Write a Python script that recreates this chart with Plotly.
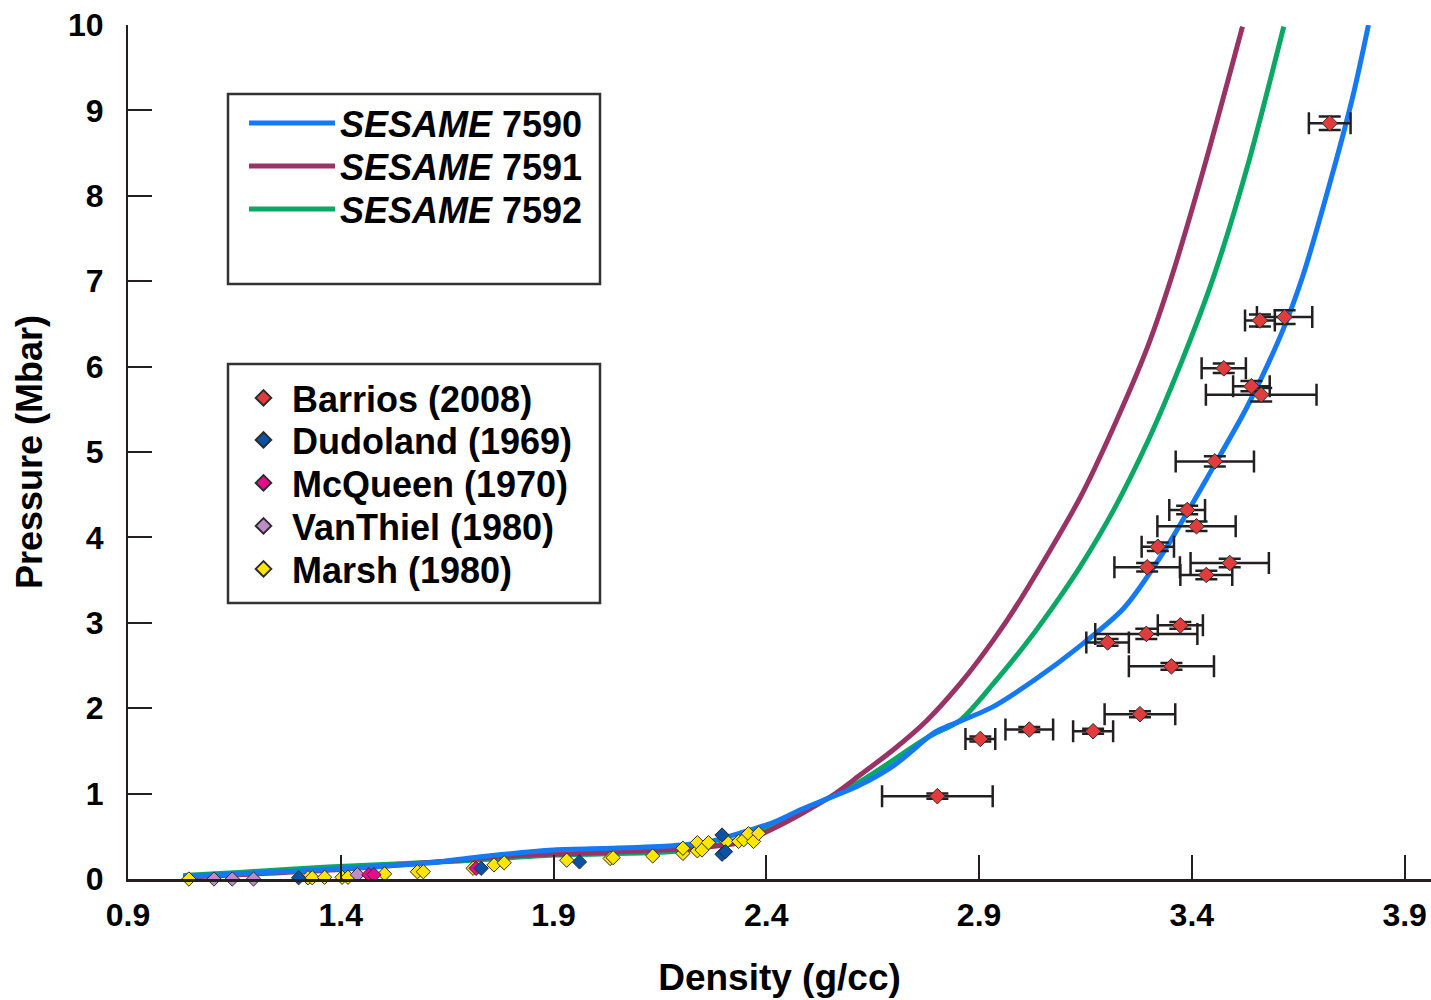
import plotly.graph_objects as go

# SESAME 7590 (blue)
rho_7590 = [1.03, 1.2, 1.4, 1.63, 1.71, 1.9, 2.04, 2.18, 2.26, 2.34, 2.42, 2.48, 2.62, 2.70,
            2.78, 2.80, 2.93, 3.03, 3.13, 3.24, 3.33, 3.45, 3.53, 3.61, 3.66, 3.73, 3.78, 3.815]
p_7590 = [0.03, 0.07, 0.12, 0.20, 0.25, 0.34, 0.36, 0.39, 0.43, 0.54, 0.67, 0.81, 1.10, 1.33,
          1.66, 1.73, 2.01, 2.33, 2.70, 3.17, 3.80, 4.82, 5.53, 6.38, 7.05, 8.25, 9.20, 10.0]

# SESAME 7591 (purple)
rho_7591 = [1.03, 1.2, 1.4, 1.6, 1.8, 1.95, 2.2, 2.34, 2.42, 2.55, 2.621, 2.7, 2.778, 2.856,
            2.934, 2.997, 3.138, 3.216, 3.296, 3.35, 3.427, 3.519]
p_7591 = [0.02, 0.06, 0.11, 0.19, 0.27, 0.30, 0.35, 0.43, 0.60, 0.96, 1.22, 1.52, 1.86, 2.29,
          2.80, 3.27, 4.47, 5.29, 6.23, 7.01, 8.30, 9.98]

# SESAME 7592 (green)
rho_7592 = [1.03, 1.17, 1.37, 1.68, 1.9, 2.2, 2.34, 2.48, 2.62, 2.78, 2.856, 2.934, 3.014,
            3.091, 3.138, 3.216, 3.296, 3.373, 3.451, 3.531, 3.616]
p_7592 = [0.04, 0.08, 0.14, 0.21, 0.28, 0.33, 0.47, 0.79, 1.14, 1.66, 1.86, 2.29, 2.78,
          3.31, 3.66, 4.32, 5.12, 6.02, 7.05, 8.35, 9.98]

# Barrios (2008)
barrios_rho = [2.802, 2.903, 3.018, 3.168, 3.278, 3.352, 3.202, 3.293, 3.373, 3.434, 3.489,
               3.295, 3.320, 3.411, 3.389, 3.454, 3.563, 3.540, 3.475, 3.560, 3.618, 3.724]
barrios_p = [0.97, 1.64, 1.75, 1.73, 1.93, 2.49, 2.77, 2.87, 2.97, 3.56, 3.70,
             3.65, 3.89, 4.13, 4.32, 4.89, 5.67, 5.77, 5.98, 6.54, 6.58, 8.85]
barrios_drho = [0.13, 0.035, 0.056, 0.047, 0.083, 0.10, 0.05, 0.12, 0.053, 0.061, 0.092,
                0.077, 0.038, 0.092, 0.042, 0.092, 0.13, 0.043, 0.052, 0.035, 0.065, 0.049]
barrios_dp = [0.03, 0.03, 0.03, 0.03, 0.035, 0.04, 0.04, 0.06, 0.04, 0.05, 0.05,
              0.05, 0.05, 0.055, 0.05, 0.06, 0.08, 0.06, 0.055, 0.07, 0.08, 0.08]

# Dudoland (1969)
dudoland_rho = [1.301, 1.73, 1.961, 2.296, 2.296, 2.304]
dudoland_p = [0.015, 0.125, 0.20, 0.515, 0.29, 0.32]

# McQueen (1970)
mcqueen_rho = [1.466, 1.478, 1.718]
mcqueen_p = [0.05, 0.05, 0.125]

# VanThiel (1980)
vanthiel_rho = [1.102, 1.145, 1.195, 1.439]
vanthiel_p = [0.0, 0.0, 0.0, 0.05]

# Marsh (1980)
marsh_rho = [1.043, 1.323, 1.333, 1.362, 1.403, 1.417, 1.503, 1.580, 1.594, 1.711, 1.760,
             1.784, 1.931, 2.033, 2.040, 2.133, 2.204, 2.204, 2.238, 2.238, 2.249, 2.264,
             2.307, 2.335, 2.347, 2.358, 2.370, 2.382]
marsh_p = [0.0, 0.015, 0.015, 0.02, 0.02, 0.02, 0.06, 0.085, 0.085, 0.125, 0.165,
           0.19, 0.22, 0.24, 0.25, 0.27, 0.30, 0.36, 0.33, 0.425, 0.34, 0.425,
           0.44, 0.44, 0.46, 0.53, 0.44, 0.535]

AX = '#231f20'
FONT = 'Liberation Sans, Arial, Helvetica, sans-serif'

# plot area: x 128..1431 px, y 25..879 px
W, H = 1303, 854
def px(x):
    return (x - 128) / W
def py(y):
    return (879 - y) / H

fig = go.Figure()
legends = {}

def leg(key, x, y, itemwidth):
    # one legend per entry so the rows sit where the reference has them
    legends[key] = dict(x=px(x), y=py(y), xanchor='left', yanchor='middle',
                        bgcolor='rgba(0,0,0,0)', borderwidth=0, itemwidth=itemwidth,
                        itemsizing='constant', font=dict(size=36, weight='bold', family=FONT))

# model curves
curves = [(rho_7592, p_7592, '7592', '#0aa864', 'legend3', 209),
          (rho_7591, p_7591, '7591', '#993366', 'legend2', 166),
          (rho_7590, p_7590, '7590', '#1479f2', 'legend', 123)]
for rho, p, name, col, lg, yrow in curves:
    fig.add_trace(go.Scatter(
        x=rho, y=p, mode='lines', name='<i>SESAME</i> ' + name,
        line=dict(color=col, width=5, shape='spline', smoothing=0.8), legend=lg,
    ))
    leg(lg, 244, yrow, 86)

# experimental data, drawn bottom to top
def diamonds(rho, p, name, col, lg, yrow, size=11, **kw):
    fig.add_trace(go.Scatter(
        x=rho, y=p, mode='markers', name=name, legend=lg,
        marker=dict(symbol='diamond', size=size, color=col, line=dict(color='#2b2b2b', width=1)),
        cliponaxis=False, **kw
    ))
    leg(lg, 235, yrow, 47)

diamonds(marsh_rho, marsh_p, 'Marsh (1980)', '#ffe500', 'legend8', 569)
diamonds(vanthiel_rho, vanthiel_p, 'VanThiel (1980)', '#c08cc8', 'legend7', 526)
diamonds(mcqueen_rho, mcqueen_p, 'McQueen (1970)', '#ec0a8c', 'legend6', 483)
diamonds(dudoland_rho, dudoland_p, 'Dudoland (1969)', '#0b52a3', 'legend5', 440)
diamonds(barrios_rho, barrios_p, 'Barrios (2008)', '#e03c3c', 'legend4', 398, size=12,
         error_x=dict(type='data', array=barrios_drho, color=AX, thickness=2.5, width=11),
         error_y=dict(type='data', array=barrios_dp, color=AX, thickness=2.5, width=11))

fig.update_layout(
    width=1431, height=1000,
    margin=dict(l=128, r=0, t=25, b=121),
    plot_bgcolor='white', paper_bgcolor='white',
    font=dict(family=FONT, color='black', size=32),
    showlegend=True,
    xaxis=dict(range=[0.9, 3.962], tick0=0.9, dtick=0.5, ticks='inside', ticklen=24,
               tickwidth=2, tickcolor=AX, showline=True, linewidth=3, linecolor=AX,
               showgrid=False, zeroline=False, ticklabelstandoff=6,
               tickfont=dict(size=32, weight='bold'),
               title=dict(text='Density (g/cc)', font=dict(size=37, weight='bold'), standoff=32)),
    yaxis=dict(range=[0, 10], dtick=1, ticks='inside', ticklen=24, tickwidth=2, tickcolor=AX,
               showline=True, linewidth=2, linecolor=AX, showgrid=False, zeroline=False,
               ticklabelstandoff=16, tickfont=dict(size=32, weight='bold'),
               title=dict(text='Pressure (Mbar)', font=dict(size=36, weight='bold'), standoff=14)),
    xaxis2=dict(overlaying='x', side='top', anchor='y', range=[0, W / 196], tick0=0, dtick=1,
                ticks='inside', ticklen=24, tickwidth=2, tickcolor=AX, showline=True,
                linewidth=3, linecolor=AX, showticklabels=False, showgrid=False, zeroline=False),
    yaxis2=dict(overlaying='y', side='right', anchor='x', range=[0, 10], dtick=1,
                ticks='inside', ticklen=12, tickwidth=2, tickcolor=AX, showline=False,
                showticklabels=False, showgrid=False, zeroline=False),
    shapes=[
        dict(type='rect', xref='paper', yref='paper', x0=px(228), x1=px(600), y0=py(284), y1=py(94),
             line=dict(color='#333333', width=2.5), fillcolor='rgba(0,0,0,0)', layer='above'),
        dict(type='rect', xref='paper', yref='paper', x0=px(228), x1=px(600), y0=py(603), y1=py(364),
             line=dict(color='#333333', width=2.5), fillcolor='rgba(0,0,0,0)', layer='above'),
    ],
    **legends,
)

# the page body has an 8px default margin; drop it so the figure fills the window
fig.write_html("out.html", config={'displayModeBar': False},
               post_script="document.body.style.margin='0';")
